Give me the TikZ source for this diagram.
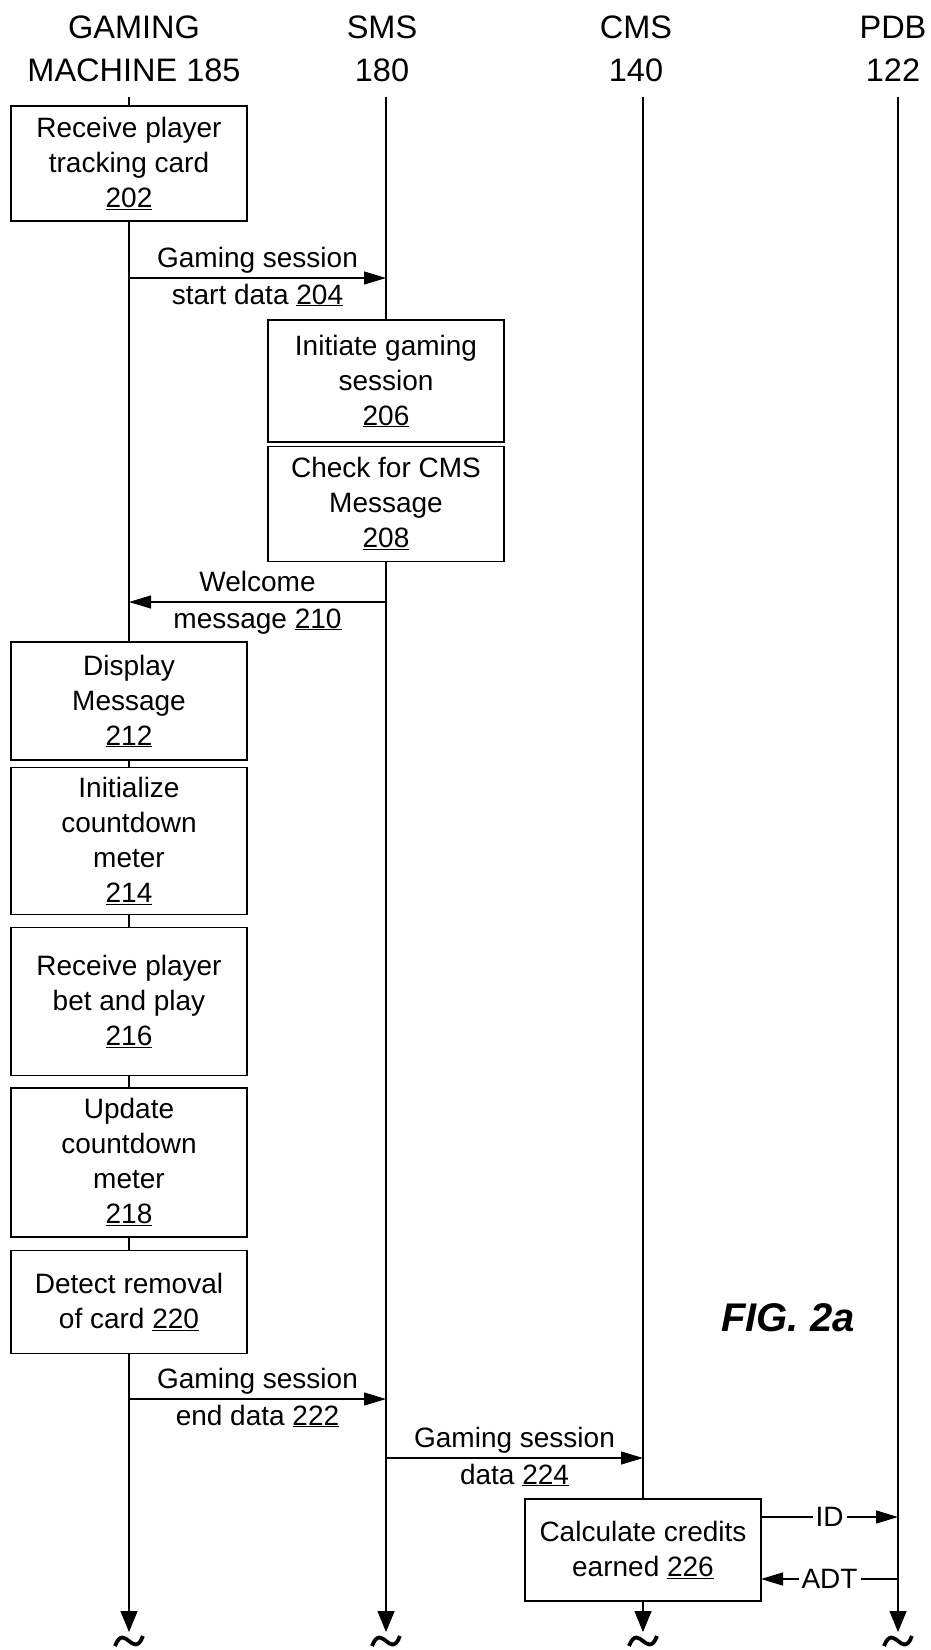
\documentclass[tikz,border=0pt]{standalone}
\usepackage{fontspec}
\setmainfont{Liberation Sans}
\usetikzlibrary{arrows.meta,positioning}

\newcommand{\ulnum}[1]{\underline{#1}}

\tikzset{
  stepbox/.style={draw, line width=1.3pt, align=center, minimum width=236pt,
    inner sep=0pt, font=\fontsize{28}{35}\selectfont},
  lane/.style={line width=1.3pt},
  msg/.style={line width=1.3pt, -{Triangle[length=22pt,width=13pt]}},
  laneend/.style={line width=1.3pt, -{Triangle[length=21pt,width=17pt]}},
  head/.style={align=center, inner sep=0pt, font=\fontsize{32.5}{43}\selectfont},
  lbl/.style={font=\fontsize{28}{35}\selectfont, anchor=base, inner sep=0pt},
  onlbl/.style={font=\fontsize{28}{35}\selectfont, fill=white, inner sep=3pt},
  cut/.style={line width=3.8pt},
}

\begin{document}
\begin{tikzpicture}[x=1pt,y=-1pt]
\useasboundingbox (0,0) rectangle (931,1650);

% headers
\node[head] (hGM)  at (134,49) {GAMING\\MACHINE 185};
\node[head] (hSMS) at (382,49) {SMS\\180};
\node[head] (hCMS) at (636,49) {CMS\\140};
\node[head] (hPDB) at (893,49) {PDB\\122};

\coordinate (gmTop)  at (129,97);
\coordinate (smsTop) at (386,97);
\coordinate (cmsTop) at (643,97);
\coordinate (pdbTop) at (898,97);
\coordinate (gmEnd)  at (129,1632);
\coordinate (smsEnd) at (386,1632);
\coordinate (cmsEnd) at (643,1632);
\coordinate (pdbEnd) at (898,1632);

% gaming machine steps
\node[stepbox, minimum height=115pt] (b202) at (129,163.5) {Receive player\\tracking card\\\ulnum{202}};
\node[stepbox, minimum height=118pt] (b212) at (129,701) {Display\\Message\\\ulnum{212}};
\node[stepbox, minimum height=147pt, below=6pt of b212] (b214) {Initialize\\countdown\\meter\\\ulnum{214}};
\node[stepbox, minimum height=148pt, below=12pt of b214] (b216) {Receive player\\bet and play\\\ulnum{216}};
\node[stepbox, minimum height=149pt, below=11pt of b216] (b218) {Update\\countdown\\meter\\\ulnum{218}};
\node[stepbox, minimum height=103pt, below=12pt of b218] (b220) {Detect removal\\of card \ulnum{220}};

% sms steps
\node[stepbox, minimum height=122pt] (b206) at (386,381) {Initiate gaming\\session\\\ulnum{206}};
\node[stepbox, minimum height=115pt, below=3pt of b206] (b208) {Check for CMS\\Message\\\ulnum{208}};

% cms step
\node[stepbox, minimum height=102pt] (b226) at (643,1550) {Calculate credits\\earned \ulnum{226}};

% lifelines
\draw[lane] (gmTop) -- (b202);
\draw[lane] (b202) -- (b212);
\draw[lane] (b212) -- (b214);
\draw[lane] (b214) -- (b216);
\draw[lane] (b216) -- (b218);
\draw[lane] (b218) -- (b220);
\draw[laneend] (b220) -- (gmEnd);
\draw[lane] (smsTop) -- (b206);
\draw[laneend] (b208) -- (smsEnd);
\draw[lane] (cmsTop) -- (b226);
\draw[laneend] (b226) -- (cmsEnd);
\draw[laneend] (pdbTop) -- (pdbEnd);

% messages
\coordinate (s204) at (129,278);  \coordinate (t204) at (386,278);
\coordinate (s210) at (386,602);  \coordinate (t210) at (129,602);
\coordinate (s222) at (129,1399); \coordinate (t222) at (386,1399);
\coordinate (s224) at (386,1458); \coordinate (t224) at (643,1458);
\coordinate (sID)  at (761,1517); \coordinate (tID)  at (898,1517);
\coordinate (sADT) at (898,1579); \coordinate (tADT) at (761,1579);

\draw[msg] (s204) -- node[lbl, yshift=11pt] {Gaming session}
  node[lbl, yshift=-26pt] {start data \ulnum{204}} (t204);
\draw[msg] (s210) -- node[lbl, yshift=11pt] {Welcome}
  node[lbl, yshift=-26pt] {message \ulnum{210}} (t210);
\draw[msg] (s222) -- node[lbl, yshift=11pt] {Gaming session}
  node[lbl, yshift=-26pt] {end data \ulnum{222}} (t222);
\draw[msg] (s224) -- node[lbl, yshift=11pt] {Gaming session}
  node[lbl, yshift=-26pt] {data \ulnum{224}} (t224);
\draw[msg] (sID) -- node[onlbl] {ID} (tID);
\draw[msg] (sADT) -- node[onlbl] {ADT} (tADT);

% break marks
\foreach \x in {129,386,643,898}
  \draw[cut] ({\x-14},1646) .. controls ({\x-9},1633) and ({\x-4},1638) .. (\x,1641)
    .. controls ({\x+4},1644) and ({\x+9},1649) .. ({\x+14},1636);

\node[font=\fontsize{40}{48}\selectfont\bfseries\itshape] (fig) at (788,1318) {FIG. 2a};
\end{tikzpicture}
\end{document}
